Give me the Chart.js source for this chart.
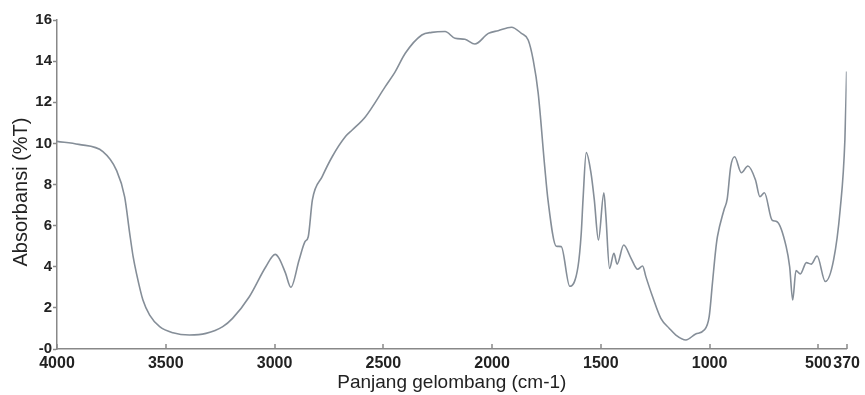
<!DOCTYPE html>
<html>
<head>
<meta charset="utf-8">
<script src="https://cdn.jsdelivr.net/npm/chart.js@4/dist/chart.umd.min.js"></script>
<style>
html,body{margin:0;padding:0;background:#fff;}
#wrap{width:865px;height:395px;position:relative;}
</style>
</head>
<body>
<div id="wrap"><canvas id="c" width="865" height="395"></canvas></div>
<script>
// Wavenumbers (cm-1)
const wavenumbers = [4000,3900,3789,3727,3689,3666,3650,3635,3605,3574,3528,3467,3391,3315,3238,3193,3116,3040,2997,2979,2950,2925,2887,2860,2845,2826,2781,2735,2674,2643,2582,2491,2445,2399,2323,2277,2216,2170,2125,2079,2017,1972,1911,1865,1834,1811,1788,1758,1743,1705,1682,1643,1605,1590,1582,1567,1545,1530,1511,1486,1477,1460,1440,1425,1395,1361,1331,1308,1293,1262,1224,1185,1155,1109,1064,1025,1002,987,972,964,934,919,903,885,854,824,789,769,748,713,690,648,632,618,603,583,555,533,506,468,430,400,378,370];
// Absorbansi (%T) values
const absorbance = [10.1,9.95,9.6,8.7,7.4,5.64,4.49,3.69,2.38,1.65,1.09,0.79,0.68,0.76,1.09,1.49,2.54,4.0,4.6,4.41,3.7,3.0,4.33,5.22,5.46,7.25,8.38,9.35,10.33,10.65,11.3,12.76,13.49,14.38,15.27,15.4,15.44,15.11,15.06,14.83,15.35,15.48,15.65,15.35,15.03,14.06,12.44,8.87,7.25,5.0,4.98,3.05,4.0,5.64,7.25,9.55,8.54,7.25,5.3,7.6,6.5,3.92,4.65,4.13,5.06,4.41,3.88,4.04,3.52,2.54,1.49,1.0,0.68,0.44,0.73,0.92,1.57,3.2,4.82,5.46,6.76,7.3,8.87,9.35,8.57,8.9,8.22,7.41,7.6,6.27,6.19,4.98,4.0,2.38,3.81,3.65,4.2,4.13,4.52,3.28,4.33,6.76,10.2,13.5];
// Tick labels
const xTicks = [4000,3500,3000,2500,2000,1500,1000,500,370];
const yTicks = [0,2,4,6,8,10,12,14,16];
const yTickLabels = ['-0','2','4','6','8','10','12','14','16'];
const xTitle = 'Panjang gelombang (cm-1)';
const yTitle = 'Absorbansi (%T)';

const points = wavenumbers.map((w,i)=>({x:w,y:absorbance[i]}));
const FONT = 'Liberation Sans, Arial, sans-serif';

const extras = {
  id:'extras',
  afterDraw(chart){
    const ctx = chart.ctx, xs = chart.scales.x, bottom = chart.chartArea.bottom;
    ctx.save();
    ctx.strokeStyle = '#888';
    ctx.lineWidth = 1.5;
    xTicks.forEach(v=>{
      const px = Math.round(xs.getPixelForValue(v));
      ctx.beginPath();
      ctx.moveTo(px, bottom);
      ctx.lineTo(px, bottom-5);
      ctx.stroke();
    });
    // y-axis title
    ctx.fillStyle = '#222';
    ctx.font = '20px ' + FONT;
    ctx.textAlign = 'center';
    ctx.textBaseline = 'middle';
    ctx.translate(21, 192);
    ctx.rotate(-Math.PI/2);
    ctx.fillText(yTitle, 0, 0);
    ctx.restore();
  }
};

new Chart(document.getElementById('c'), {
  type:'line',
  data:{datasets:[{
    data:points,
    borderColor:'#858e98',
    borderWidth:1.6,
    pointRadius:0,
    fill:false,
    cubicInterpolationMode:'monotone'
  }]},
  options:{
    responsive:false,
    animation:false,
    layout:{padding:{top:20,right:15,left:0,bottom:0}},
    plugins:{legend:{display:false},tooltip:{enabled:false}},
    scales:{
      x:{
        type:'linear',
        reverse:true,
        min:370,max:4000,
        afterFit(s){s.height=46;},
        afterBuildTicks(s){s.ticks = xTicks.map(v=>({value:v}));},
        ticks:{autoSkip:false,maxRotation:0,padding:5,color:'#222',font:{family:FONT,size:16,weight:'bold'},callback:(v)=>String(v)},
        grid:{drawOnChartArea:false,drawTicks:false},
        border:{color:'#888',width:1.5},
        title:{display:true,text:xTitle,color:'#222',font:{family:FONT,size:19},padding:{top:0,bottom:1}}
      },
      y:{
        type:'linear',
        min:0,max:16,
        afterFit(s){s.width=57;},
        afterBuildTicks(s){s.ticks = yTicks.map(v=>({value:v}));},
        ticks:{autoSkip:false,padding:1,color:'#222',font:{family:FONT,size:15,weight:'bold'},callback:(v)=>yTickLabels[yTicks.indexOf(v)]},
        grid:{drawOnChartArea:false,drawTicks:true,tickLength:4,color:'#888',tickWidth:1.5},
        border:{color:'#888',width:1.5},
        title:{display:false}
      }
    }
  },
  plugins:[extras]
});
</script>
</body>
</html>
